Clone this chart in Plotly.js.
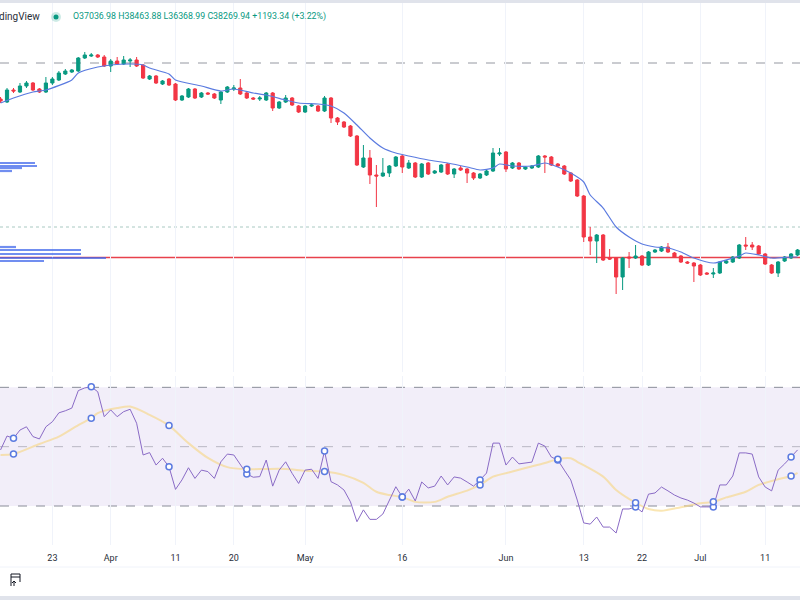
<!DOCTYPE html>
<html><head><meta charset="utf-8">
<script src="https://cdn.plot.ly/plotly-3.0.1.min.js"></script>
<style>html,body{margin:0;padding:0;background:#fff;overflow:hidden}#chart{width:800px;height:600px}</style>
</head><body><div id="chart"></div><script>
// ---- data ----
const dates = [
'2022-03-15','2022-03-16','2022-03-17','2022-03-18','2022-03-19','2022-03-20','2022-03-21','2022-03-22','2022-03-23','2022-03-24',
'2022-03-25','2022-03-26','2022-03-27','2022-03-28','2022-03-29','2022-03-30','2022-03-31','2022-04-01','2022-04-02','2022-04-03',
'2022-04-04','2022-04-05','2022-04-06','2022-04-07','2022-04-08','2022-04-09','2022-04-10','2022-04-11','2022-04-12','2022-04-13',
'2022-04-14','2022-04-15','2022-04-16','2022-04-17','2022-04-18','2022-04-19','2022-04-20','2022-04-21','2022-04-22','2022-04-23',
'2022-04-24','2022-04-25','2022-04-26','2022-04-27','2022-04-28','2022-04-29','2022-04-30','2022-05-01','2022-05-02','2022-05-03',
'2022-05-04','2022-05-05','2022-05-06','2022-05-07','2022-05-08','2022-05-09','2022-05-10','2022-05-11','2022-05-12','2022-05-13',
'2022-05-14','2022-05-15','2022-05-16','2022-05-17','2022-05-18','2022-05-19','2022-05-20','2022-05-21','2022-05-22','2022-05-23',
'2022-05-24','2022-05-25','2022-05-26','2022-05-27','2022-05-28','2022-05-29','2022-05-30','2022-05-31','2022-06-01','2022-06-02',
'2022-06-03','2022-06-04','2022-06-05','2022-06-06','2022-06-07','2022-06-08','2022-06-09','2022-06-10','2022-06-11','2022-06-12',
'2022-06-13','2022-06-14','2022-06-15','2022-06-16','2022-06-17','2022-06-18','2022-06-19','2022-06-20','2022-06-21','2022-06-22',
'2022-06-23','2022-06-24','2022-06-25','2022-06-26','2022-06-27','2022-06-28','2022-06-29','2022-06-30','2022-07-01','2022-07-02',
'2022-07-03','2022-07-04','2022-07-05','2022-07-06','2022-07-07','2022-07-08','2022-07-09','2022-07-10','2022-07-11','2022-07-12',
'2022-07-13','2022-07-14','2022-07-15','2022-07-16'];

const open = [
42100,41800,43000,42800,43400,43700,43100,42800,43700,44000,
44600,44800,44900,46200,46400,46500,46300,45400,45900,45600,
45900,46000,45500,44100,44400,43600,44100,43600,42000,42300,
43100,42300,42700,42600,42000,42800,43100,43200,42700,42200,
42100,42000,42700,41200,41800,42200,41400,40800,41400,41400,
40900,42200,40200,39800,39400,38400,35300,36200,34500,34400,
34700,35400,36400,35200,35700,34300,35700,34700,34800,35600,
34600,35200,35100,34700,34200,34500,34900,36600,36800,35200,
35700,35100,35200,35300,36400,36300,35600,35400,34700,34000,
32400,28300,27900,28500,26200,26200,24300,26300,26200,26400,
25500,26800,26900,27300,26700,26400,25800,25700,25500,24700,
24600,24700,25700,25800,26200,27500,27500,27400,26600,25500,
24700,25900,26200,26500];
const high = [
42300,43200,43200,43700,43900,43800,43200,44300,44300,44900,
45100,45100,46300,46800,46700,46600,46500,46100,46300,46400,
46200,46300,45600,44500,44500,44000,44200,43700,42500,43200,
43200,42800,42800,42700,42900,43400,43500,44100,42800,42300,
42400,42800,42800,41900,42500,42300,41500,41500,41700,41500,
42400,42300,40300,39900,39500,38500,37500,37000,35500,36200,
35500,36400,36500,36000,35800,35700,35800,35000,35600,35700,
35200,35400,35200,34800,34700,35000,37200,37200,36900,35800,
35800,35400,35500,36500,36500,36400,35700,35500,34800,34100,
32500,29300,28600,28600,27100,26300,26300,26800,27500,26500,
26900,27100,27400,27700,26800,26500,25900,25800,25600,24800,
25200,25900,26000,26400,27600,28300,27800,27500,26700,25600,
25900,26400,26700,27100];
const low = [
41700,41700,42700,42700,43200,42900,42700,42700,43500,43900,
44500,44700,44800,46100,46300,46200,45300,44800,45500,45500,
45300,45300,44100,44000,43600,43500,43400,41900,41900,42200,
42100,42200,42500,42100,41600,42700,42900,42500,42100,42000,
41900,41900,40900,41100,41700,41400,40700,40700,41300,40800,
40800,39700,39500,39200,38300,35400,35200,33600,31300,34300,
34300,35300,34700,35100,34200,34200,34500,34600,34700,34500,
34200,34900,33700,34000,34100,34400,34800,36400,34800,35100,
35000,35000,35100,35200,34700,35400,35300,34500,33800,32300,
27800,26500,25700,25900,26000,22600,23000,25200,26100,25400,
25400,26700,26800,26700,26200,25700,25600,23800,24400,24500,
24200,24600,25600,25700,26100,27000,27000,26500,25500,24600,
24300,25800,26100,26400];
const close = [
41900,43000,42900,43400,43700,43000,42800,43700,44100,44700,
44900,45000,46200,46500,46500,46300,45400,45900,45600,46000,
46000,45400,44200,44400,43700,43900,43500,42000,42400,43100,
42200,42700,42600,42200,42800,43300,43200,42600,42200,42100,
42200,42700,41200,41800,42200,41500,40800,41400,41500,40900,
42200,40200,39800,39300,38400,35500,36200,34500,34400,34700,
35400,36300,35300,35700,34300,35600,34600,34900,35500,34600,
35100,35000,34700,34200,34600,34900,36700,36700,35100,35700,
35100,35300,35400,36400,36300,35500,35400,34600,33900,32400,
28300,27900,28500,26000,26100,24300,26200,26200,26400,25500,
26800,27000,27300,26800,26300,25800,25700,25400,24500,24600,
24700,25800,25900,26300,27500,27400,27300,26600,25600,24700,
25800,26300,26600,27000];

// price moving average (blue line), read at sample days
const maDates = ['2022-03-15','2022-03-17','2022-03-20','2022-03-22','2022-03-26','2022-03-27','2022-03-30','2022-04-01','2022-04-04','2022-04-06',
'2022-04-07','2022-04-10','2022-04-11','2022-04-15','2022-04-18','2022-04-20','2022-04-23','2022-04-25','2022-04-28','2022-04-30',
'2022-05-03','2022-05-05','2022-05-07','2022-05-09','2022-05-11','2022-05-13','2022-05-15','2022-05-17','2022-05-20','2022-05-23',
'2022-05-26','2022-05-28','2022-05-30','2022-05-31','2022-06-02','2022-06-05','2022-06-07','2022-06-09','2022-06-11','2022-06-13',
'2022-06-14','2022-06-16','2022-06-18','2022-06-20','2022-06-22','2022-06-24','2022-06-26','2022-06-28','2022-06-30','2022-07-03',
'2022-07-06','2022-07-07','2022-07-08','2022-07-10','2022-07-12','2022-07-15','2022-07-16'];
const maVals = [41700,42200,42800,43000,44000,44700,45300,45500,45600,45500,
45200,44600,44000,43400,42900,43100,42700,42500,42000,41700,
41600,41400,40700,39500,38200,37200,36700,36400,36000,35700,
35300,35000,35200,35600,35400,35400,35700,35300,34700,33800,
32500,31200,29300,28300,27600,27300,27200,26800,26200,25700,
26200,26400,26700,26500,26200,26300,26300];

// RSI (purple) one value per day
const rsi = [
48.9,53.6,52.8,55.6,56.7,53.4,52.6,56.7,58.4,61.4,
62.1,63.0,68.9,69.8,70.2,68.5,60.1,62.4,60.1,61.8,
62.6,57.9,47.2,48.0,43.8,46.1,43.2,35.6,38.8,42.9,
39.3,42.1,41.6,39.3,44.9,47.5,47.2,43.8,40.8,39.7,
39.9,45.5,36.7,42.1,44.9,41.0,37.6,42.1,42.4,39.3,
48.5,38.2,37.1,35.4,31.4,24.7,28.7,25.5,25.5,27.3,
32.0,36.5,33.0,35.7,31.7,38.1,36.1,36.7,40.1,37.1,
39.8,39.4,38.1,36.7,38.8,41.1,51.2,51.2,43.8,46.5,
44.2,44.5,44.8,51.2,50.2,46.5,45.5,42.1,38.8,32.0,
24.3,23.9,26.3,22.9,22.9,20.9,29.0,29.0,29.7,28.0,
34.0,34.4,36.4,35.1,33.7,32.7,32.0,31.0,29.7,29.7,
29.7,37.1,37.1,40.1,47.9,47.9,47.5,39.8,36.4,35.1,
42.1,44.2,46.5,48.9];

// RSI moving average (yellow), read at sample days
const rsiMaDates = ['2022-03-15','2022-03-17','2022-03-21','2022-03-24','2022-03-27','2022-03-29','2022-03-30','2022-04-02','2022-04-04','2022-04-07',
'2022-04-10','2022-04-13','2022-04-16','2022-04-19','2022-04-22','2022-04-25','2022-04-28','2022-05-01','2022-05-04','2022-05-07',
'2022-05-10','2022-05-12','2022-05-14','2022-05-16','2022-05-18','2022-05-21','2022-05-23','2022-05-26','2022-05-28','2022-05-30',
'2022-06-02','2022-06-04','2022-06-07','2022-06-09','2022-06-11','2022-06-12','2022-06-16','2022-06-18','2022-06-21','2022-06-23',
'2022-06-25','2022-06-28','2022-07-01','2022-07-03','2022-07-05','2022-07-08','2022-07-10','2022-07-13','2022-07-15','2022-07-16'];
const rsiMaVals = [47.2,47.5,50.9,53.4,57.3,59.6,61.3,63.0,63.5,60.7,
57.1,51.2,46.2,43.1,42.4,42.5,42.5,41.9,41.6,40.4,
37.8,34.8,33.7,33.0,31.4,31.4,33.1,35.2,37.1,39.9,
41.6,42.8,44.5,45.8,46.1,44.9,39.9,35.4,31.1,29.0,
28.4,29.6,30.9,31.4,32.9,34.8,37.1,39.0,40.1,41.2];

// days carrying the small circle markers in the RSI pane
const markDates = ['2022-03-17','2022-03-29','2022-04-10','2022-04-22','2022-05-04','2022-05-16','2022-05-28','2022-06-09','2022-06-21','2022-07-03','2022-07-15'];

// visible-range volume profile rows (price level, relative size)
const vpPrice = [35700,35400,35200,34900,27300,27000,26600,26200,25900];
const vpSize  = [35,37,22,12,16,81,81,106,44];

// horizontal levels
const levelDashed = 45700, levelDotted = 29300, levelRed = 26250;
const rsiLevels = [70,50,30];

const tickDates = ['2022-03-23','2022-04-01','2022-04-11','2022-04-20','2022-05-01','2022-05-16','2022-06-01','2022-06-13','2022-06-22','2022-07-01','2022-07-11'];
const tickText  = ['23','Apr','11','20','May','16','Jun','13','22','Jul','11'];

const header = 'O37036.98 H38463.88 L36368.99 C38269.94 +1193.34 (+3.22%)';

// ---- chart ----
const PH = 545; // plot height in px
const py = p => 1 - p/PH;

const markRsi = markDates.map(d => rsi[dates.indexOf(d)]);
const markMa  = markDates.map(d => rsiMaVals[rsiMaDates.indexOf(d)]);

const traces = [
 {type:'bar', orientation:'h', x:vpSize, y:vpPrice, xaxis:'x3', yaxis:'y', width:220,
  marker:{color:'rgba(66,104,235,0.75)', line:{width:0}}, hoverinfo:'skip'},
 {type:'candlestick', x:dates, open:open, high:high, low:low, close:close, xaxis:'x', yaxis:'y',
  increasing:{line:{color:'#089981', width:1}, fillcolor:'#089981'},
  decreasing:{line:{color:'#f23645', width:1}, fillcolor:'#f23645'},
  whiskerwidth:0, hoverinfo:'skip'},
 {type:'scatter', mode:'lines', x:maDates, y:maVals, xaxis:'x', yaxis:'y',
  line:{color:'#5b7be0', width:1.2, shape:'spline', smoothing:0.6}, hoverinfo:'skip'},
 {type:'scatter', mode:'lines', x:rsiMaDates, y:rsiMaVals, xaxis:'x', yaxis:'y2',
  line:{color:'rgba(247,214,128,0.6)', width:2, shape:'spline', smoothing:0.8}, hoverinfo:'skip'},
 {type:'scatter', mode:'lines', x:dates, y:rsi, xaxis:'x', yaxis:'y2',
  line:{color:'#8a6bc6', width:1}, hoverinfo:'skip'},
 {type:'scatter', mode:'markers', x:markDates.concat(markDates), y:markRsi.concat(markMa), xaxis:'x', yaxis:'y2',
  marker:{symbol:'circle', size:6, color:'#ffffff', line:{color:'#5b7be0', width:1.5}}, hoverinfo:'skip'}
];

const shapes = [
 {type:'rect', xref:'paper', x0:0, x1:1, yref:'y2', y0:30, y1:70, fillcolor:'rgba(126,87,194,0.1)', line:{width:0}, layer:'below'},
 {type:'line', xref:'paper', x0:0, x1:1, yref:'y2', y0:rsiLevels[0], y1:rsiLevels[0], line:{color:'#8a8d98', width:1, dash:'dash'}, layer:'below'},
 {type:'line', xref:'paper', x0:0, x1:1, yref:'y2', y0:rsiLevels[1], y1:rsiLevels[1], line:{color:'rgba(138,141,152,0.55)', width:1, dash:'dash'}, layer:'below'},
 {type:'line', xref:'paper', x0:0, x1:1, yref:'y2', y0:rsiLevels[2], y1:rsiLevels[2], line:{color:'#8a8d98', width:1, dash:'dash'}, layer:'below'},
 {type:'line', xref:'paper', x0:0, x1:1, yref:'y', y0:levelDashed, y1:levelDashed, line:{color:'#9598a1', width:1, dash:'dash'}, layer:'below'},
 {type:'line', xref:'paper', x0:0, x1:1, yref:'y', y0:levelDotted, y1:levelDotted, line:{color:'#a9c9c2', width:1, dash:'dot'}, layer:'below'},
 {type:'line', xref:'paper', x0:0, x1:1, yref:'y', y0:levelRed, y1:levelRed, line:{color:'#e8414b', width:1.5}, layer:'below'},
 // top border band
 {type:'rect', xref:'paper', x0:0, x1:1, yref:'paper', y0:py(0), y1:py(3), fillcolor:'#e0e3eb', line:{width:0}},
 // bottom toolbar separators
 {type:'line', xref:'paper', x0:0, x1:1, yref:'paper', y0:py(567), y1:py(567), line:{color:'#f0f3fa', width:1}},
 {type:'rect', xref:'paper', x0:0, x1:1, yref:'paper', y0:py(596), y1:py(600), fillcolor:'#e0e3eb', line:{width:0}},
 // green status dot with halo
 {type:'circle', xref:'paper', xsizemode:'pixel', xanchor:56/800, x0:-5, x1:5, yref:'paper', ysizemode:'pixel', yanchor:py(17), y0:-5, y1:5, fillcolor:'rgba(8,153,129,0.2)', line:{width:0}},
 {type:'circle', xref:'paper', xsizemode:'pixel', xanchor:56/800, x0:-2.5, x1:2.5, yref:'paper', ysizemode:'pixel', yanchor:py(17), y0:-2.5, y1:2.5, fillcolor:'#089981', line:{width:0}},
 // "go to date" icon
 {type:'path', xref:'paper', xsizemode:'pixel', xanchor:15/800, yref:'paper', ysizemode:'pixel', yanchor:py(580),
  path:'M -4 -6 L -4 6 L 5 6 L 5 -2 M -4 3 L 5 3 M -1 -6 L -1 -1 M -3 -3 L -1 -1 L 1 -3', line:{color:'#131722', width:1}}
];

const annotations = [
 {xref:'paper', yref:'paper', x:-0.004, y:py(17), xanchor:'left', yanchor:'middle', text:'dingView', showarrow:false,
  font:{family:'Roboto, Arial, sans-serif', size:10, color:'#2a2e39'}},
 {xref:'paper', yref:'paper', x:71/800, y:py(17), xanchor:'left', yanchor:'middle', text:header, showarrow:false,
  font:{family:'Roboto, Arial, sans-serif', size:8.8, color:'#089981'}}
];

const layout = {
 width:800, height:600, margin:{l:0, r:0, t:0, b:55},
 paper_bgcolor:'#ffffff', plot_bgcolor:'#ffffff', showlegend:false, dragmode:false,
 xaxis:{type:'date', range:['2022-03-14 22:00','2022-07-16 09:00'], anchor:'y2',
  tickvals:tickDates, ticktext:tickText, ticks:'', showgrid:true, gridcolor:'#f0f3fa', gridwidth:1,
  zeroline:false, showline:false, rangeslider:{visible:false}, ticklabelstandoff:6,
  tickfont:{family:'Roboto, Arial, sans-serif', size:9, color:'#2a2e39'}},
 yaxis:{domain:[0.3174,1], range:[14800,52000], showgrid:false, zeroline:false, showticklabels:false, ticks:''},
 yaxis2:{domain:[0,0.31], range:[16.86,73.8], showgrid:false, zeroline:false, showticklabels:false, ticks:''},
 xaxis3:{overlaying:'x', range:[0,800], visible:false, anchor:'y'},
 shapes:shapes, annotations:annotations
};

Plotly.newPlot('chart', traces, layout, {staticPlot:true, displayModeBar:false});
</script></body></html>
